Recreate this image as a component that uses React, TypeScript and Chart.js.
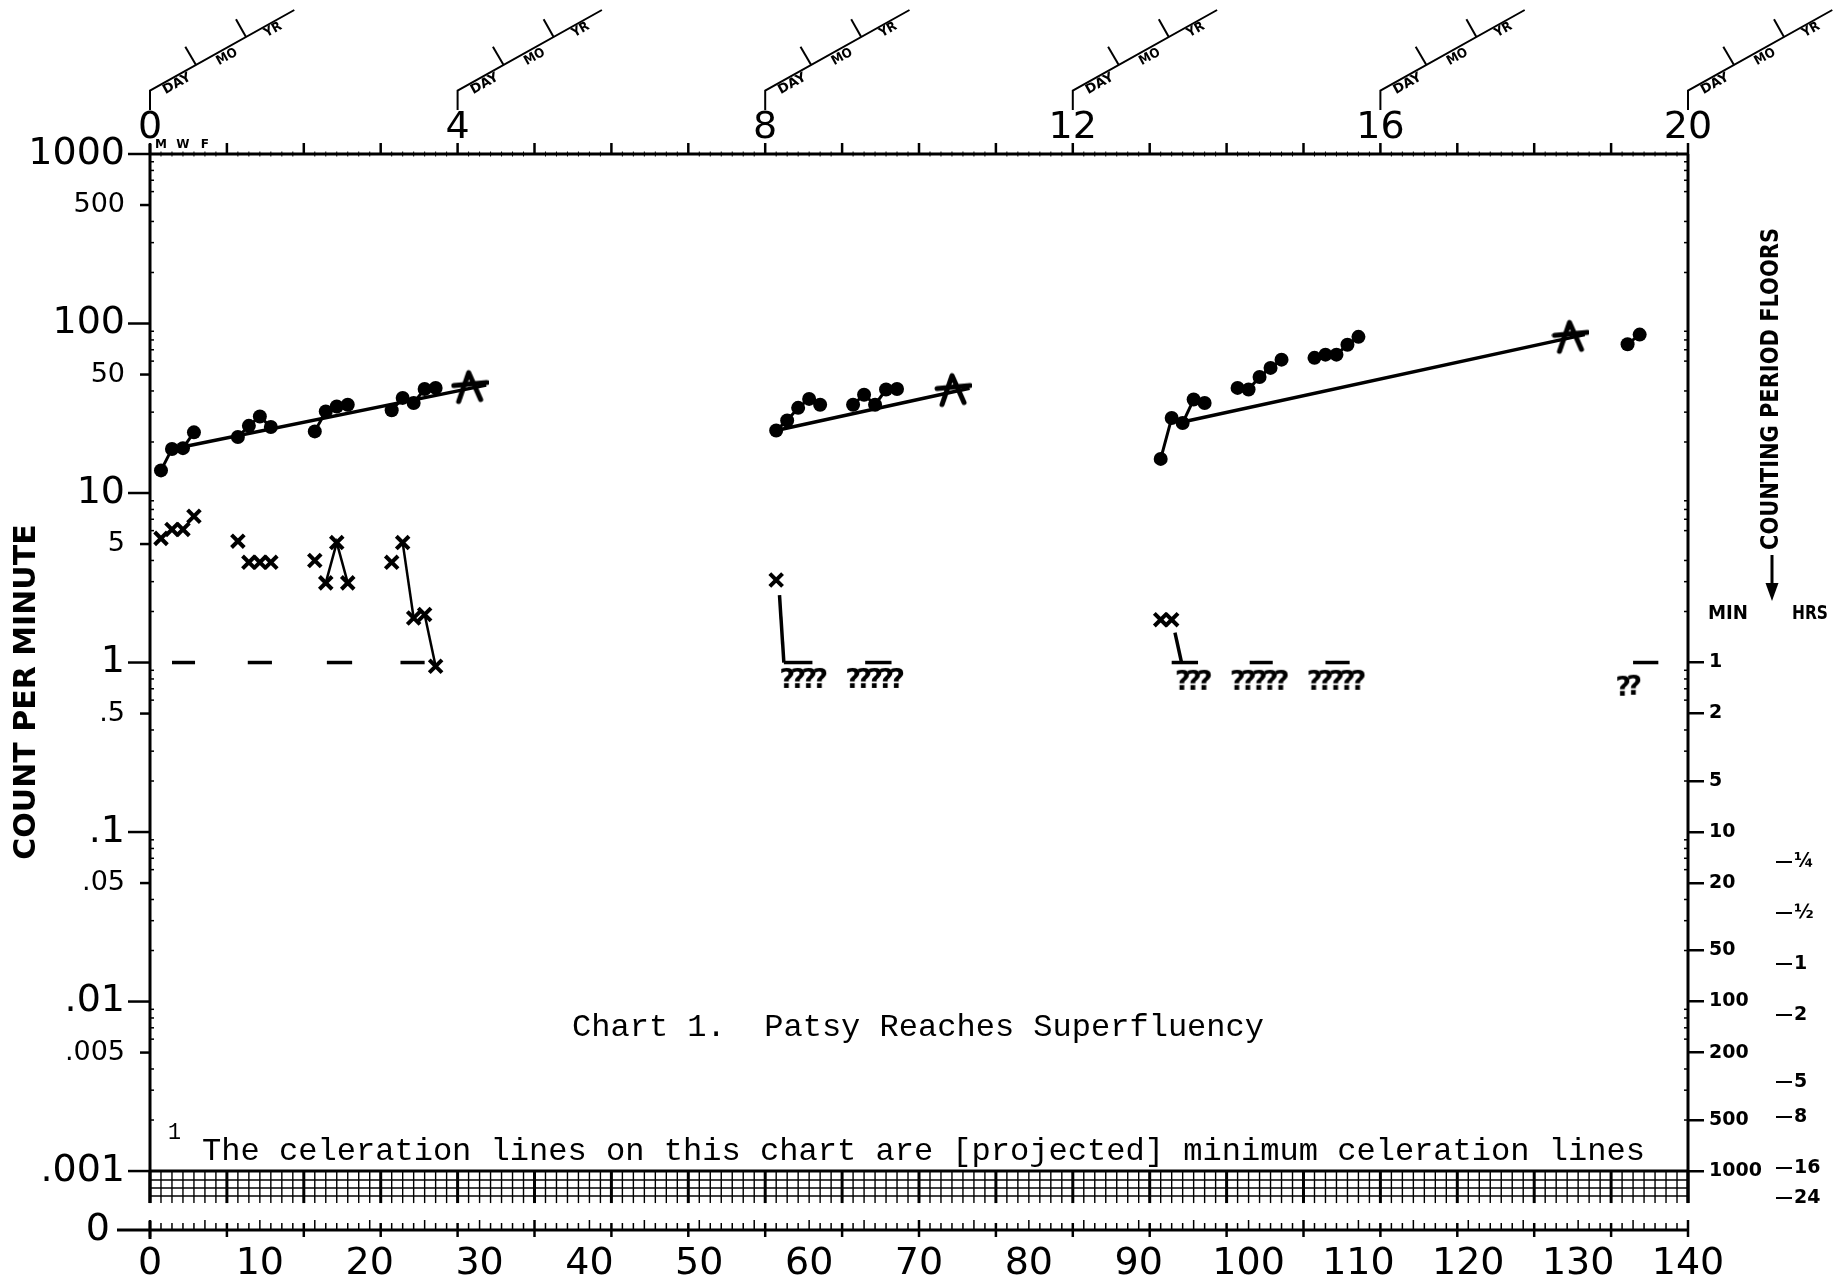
import React, { useEffect, useRef } from 'react';
import { Chart, registerables } from 'chart.js';

Chart.register(...registerables);

const FONT = "'DejaVu Sans', 'Liberation Sans', sans-serif";
const COND = "'DejaVu Sans Condensed', 'Liberation Sans Narrow', 'DejaVu Sans', sans-serif";
const MONO = "'Liberation Mono', 'DejaVu Sans Mono', monospace";

// ---- axes ----
const ZERO_LINE = 0.000449; // value where the "0" line sits below .001
const TOP_COUNT = 1000;
const FIRST_DAY = 0;
const LAST_DAY = 140;
const LAST_WEEK = 20;

const dayTicks = [0, 10, 20, 30, 40, 50, 60, 70, 80, 90, 100, 110, 120, 130, 140];
const dayTickLabels = ['0', '10', '20', '30', '40', '50', '60', '70', '80', '90', '100', '110', '120', '130', '140'];
const weekTicks = [0, 4, 8, 12, 16, 20];
const weekTickLabels = ['0', '4', '8', '12', '16', '20'];
const countTicks = [1000, 500, 100, 50, 10, 5, 1, 0.5, 0.1, 0.05, 0.01, 0.005, 0.001, ZERO_LINE];
const countTickLabels = ['1000', '500', '100', '50', '10', '5', '1', '.5', '.1', '.05', '.01', '.005', '.001', '0'];
const minuteFloorTicks = [1, 0.5, 0.2, 0.1, 0.05, 0.02, 0.01, 0.005, 0.002, 0.001];
const minuteFloorLabels = ['1', '2', '5', '10', '20', '50', '100', '200', '500', '1000'];
const hourFloorTicks = [1 / 15, 1 / 30, 1 / 60, 1 / 120, 1 / 300, 1 / 480, 1 / 960, 1 / 1440];
const hourFloorLabels = ['¼', '½', '1', '2', '5', '8', '16', '24'];
const weekdayLetters = ['M', 'W', 'F'];
const weekdayLetterDays = [1, 3, 5];
const dateBoxLabels = ['DAY', 'MO', 'YR'];

// ---- data ----
const correctDays = [1, 2, 3, 4, 8, 9, 10, 11, 15, 16, 17, 18, 22, 23, 24, 25, 26,
  57, 58, 59, 60, 61, 64, 65, 66, 67, 68,
  92, 93, 94, 95, 96, 99, 100, 101, 102, 103, 106, 107, 108, 109, 110, 134.5, 135.6];
const correctCounts = [13.6, 18.2, 18.4, 22.8, 21.4, 24.9, 28.3, 24.5, 23.1, 30.3, 32.4, 33.2, 30.8, 36.4, 34.0, 41.1, 41.7,
  23.4, 26.8, 31.8, 35.9, 33.2, 33.2, 38.0, 33.2, 40.8, 41.1,
  15.9, 27.7, 25.9, 35.6, 34.0, 41.7, 40.8, 48.4, 54.7, 61.2, 62.7, 65.5, 65.5, 75.0, 83.4, 75.5, 86.0];

const errorDays = [1, 2, 3, 4, 8, 9, 10, 11, 15, 16, 17, 18, 22, 23, 24, 25, 26, 57, 92, 93];
const errorCounts = [5.4, 6.1, 6.1, 7.3, 5.2, 3.9, 3.9, 3.9, 4.0, 2.95, 5.1, 2.95, 3.9, 5.1, 1.83, 1.92, 0.95, 3.07, 1.79, 1.79];

const unknownDays = [58, 59, 60, 61, 64, 65, 66, 67, 68, 94, 95, 96, 99, 100, 101, 102, 103, 106, 107, 108, 109, 110, 134.1, 135.1];
const unknownCounts = [0.79, 0.79, 0.79, 0.79, 0.79, 0.79, 0.79, 0.79, 0.79, 0.77, 0.77, 0.77, 0.77, 0.77, 0.77, 0.77, 0.77,
  0.77, 0.77, 0.77, 0.77, 0.77, 0.71, 0.72];

const floorStartDays = [2, 8.9, 16.1, 22.8, 57.7, 65.1, 93, 100.1, 107, 135];
const floorEndDays = [4.1, 11.1, 18.4, 25, 60.3, 67.5, 95.4, 102.2, 109.2, 137.3];
const FLOOR_COUNT = 1;

const dropStartDays = [57.3, 93.3];
const dropStartCounts = [2.5, 1.5];
const dropEndDays = [57.7, 93.9];

const aimDays = [29.1, 73.1, 129.3];
const aimCounts = [42.5, 40.8, 84];

const celStartDays = [2.6, 57.3, 94.4];
const celStartCounts = [18.5, 23.6, 26.6];
const celEndDays = [30.6, 74.6, 130.6];
const celEndCounts = [43.3, 41.5, 86];

const chartTitle = 'Chart 1.  Patsy Reaches Superfluency';
const footnoteMark = '1';
const footnote = 'The celeration lines on this chart are [projected] minimum celeration lines';
const yTitle = 'COUNT PER MINUTE';
const rightTitle = 'COUNTING PERIOD FLOORS';

function makeAim(): HTMLCanvasElement {
  const c = document.createElement('canvas');
  c.width = 38; c.height = 38;
  const g = c.getContext('2d')!;
  g.strokeStyle = '#000'; g.lineWidth = 5; g.lineCap = 'round'; g.lineJoin = 'round';
  g.beginPath(); g.moveTo(8, 34); g.lineTo(18, 5); g.lineTo(30, 32); g.stroke();
  g.beginPath(); g.moveTo(3, 18); g.lineTo(36, 15); g.stroke();
  return c;
}

function makeQuestion(): HTMLCanvasElement {
  const c = document.createElement('canvas');
  c.width = 18; c.height = 32;
  const g = c.getContext('2d')!;
  g.fillStyle = '#000';
  g.font = "bold 27px 'DejaVu Sans', sans-serif";
  g.textAlign = 'center'; g.textBaseline = 'middle';
  g.fillText('?', 9, 17);
  return c;
}

function fitted(ctx: CanvasRenderingContext2D, text: string, x: number, y: number, font: string, width: number,
  align: CanvasTextAlign = 'left', rot = 0) {
  ctx.save();
  ctx.font = font;
  const w = ctx.measureText(text).width || 1;
  ctx.translate(x, y);
  if (rot) ctx.rotate(rot);
  ctx.scale(width / w, 1);
  ctx.textAlign = align;
  ctx.textBaseline = 'middle';
  ctx.fillText(text, 0, 0);
  ctx.restore();
}

const decorPlugin = {
  id: 'celerationDecor',
  beforeDraw(chart: any) {
    const { ctx, width, height } = chart;
    ctx.save();
    ctx.fillStyle = '#fff';
    ctx.fillRect(0, 0, width, height);
    ctx.restore();
  },
  afterDraw(chart: any) {
    const ctx: CanvasRenderingContext2D = chart.ctx;
    const xs = chart.scales.x, ys = chart.scales.y, xt = chart.scales.xTop;
    const px = (d: number) => xs.getPixelForValue(d);
    const py = (v: number) => ys.getPixelForValue(v);
    const left = px(FIRST_DAY), right = px(LAST_DAY);
    const top = py(TOP_COUNT), milli = py(0.001), zeroY = py(ZERO_LINE);
    const gridBottom = milli + 32;
    const line = (x1: number, y1: number, x2: number, y2: number, w: number) => {
      ctx.lineWidth = w;
      ctx.beginPath(); ctx.moveTo(x1, y1); ctx.lineTo(x2, y2); ctx.stroke();
    };
    ctx.save();
    ctx.strokeStyle = '#000';
    ctx.fillStyle = '#000';

    // vertical axes and top line
    line(left, top - 10, left, gridBottom, 3);
    line(right, top, right, gridBottom, 3);
    line(left, top, right, top, 3);

    // left labelled ticks
    countTicks.forEach((v, i) => {
      if (v === ZERO_LINE) return;
      const small = countTickLabels[i].includes('5');
      line(left - (small ? 10 : 22), py(v), left, py(v), 2.5);
    });
    // minor log ticks inside both vertical axes
    for (let e = -3; e < 3; e++) {
      [2, 3, 4, 6, 7, 8, 9].forEach((m) => {
        const yy = py(m * Math.pow(10, e));
        line(left, yy, left + 4, yy, 1.5);
        line(right - 4, yy, right, yy, 1.5);
      });
    }

    // top: week ticks and day marks
    for (let d = FIRST_DAY; d <= LAST_DAY; d++) {
      const xx = px(d);
      if (d % 7 === 0) line(xx, top, xx, top - 11, 2.5);
      else line(xx, top - 2.5, xx, top + 2.5, 1);
    }

    // bottom grid strip below .001
    line(left, milli, right, milli, 3);
    [9, 17, 25].forEach((o) => line(left, milli + o, right, milli + o, 1.5));
    for (let d = FIRST_DAY; d <= LAST_DAY; d++) {
      const xx = px(d);
      line(xx, milli, xx, gridBottom, d % 7 === 0 ? 3 : 1.4);
    }

    // zero line
    line(px(FIRST_DAY) - 33, zeroY, right, zeroY, 3);
    for (let d = FIRST_DAY; d <= LAST_DAY; d++) {
      const xx = px(d);
      const up = d % 5 === 0 ? 10 : 7;
      const down = d % 7 === 0 ? 7 : 0;
      line(xx, zeroY - up, xx, zeroY + down, d % 7 === 0 ? 2.5 : 1.5);
    }
    line(left, zeroY - 9, left, zeroY + 9, 3);

    // M W F
    ctx.font = `bold 12px ${FONT}`;
    ctx.textAlign = 'center';
    ctx.textBaseline = 'middle';
    weekdayLetters.forEach((t, i) => ctx.fillText(t, px(weekdayLetterDays[i]), top - 9));

    // date boxes above each labelled week
    const ang = Math.atan2(80.7, 144.3);
    weekTicks.forEach((w) => {
      const X = xt.getPixelForValue(w);
      ctx.lineWidth = 2;
      ctx.beginPath();
      ctx.moveTo(X, top - 44); ctx.lineTo(X, top - 63.3); ctx.lineTo(X + 144.3, top - 144);
      ctx.stroke();
      line(X + 46, top - 89, X + 35.3, top - 107.3, 2);
      line(X + 96, top - 117, X + 86, top - 134.7, 2);
      fitted(ctx, dateBoxLabels[0], X + 27, top - 70, `bold 13px ${FONT}`, 30, 'center', -ang);
      fitted(ctx, dateBoxLabels[1], X + 77, top - 97, `bold 13px ${FONT}`, 22, 'center', -ang);
      fitted(ctx, dateBoxLabels[2], X + 123, top - 124, `bold 13px ${FONT}`, 18, 'center', -ang);
    });

    // chart title and footnote
    fitted(ctx, chartTitle, 572, 1028, `32px ${MONO}`, 692, 'left');
    fitted(ctx, footnoteMark, 168, 1133, `24px ${MONO}`, 13, 'left');
    fitted(ctx, footnote, 202, 1152, `32px ${MONO}`, 1443, 'left');

    // right side titles
    fitted(ctx, rightTitle, 1772, 389, `bold 24px ${COND}`, 322, 'center', -Math.PI / 2);
    line(1772, 555, 1772, 586, 3);
    ctx.beginPath();
    ctx.moveTo(1765.5, 583); ctx.lineTo(1778.5, 583); ctx.lineTo(1772, 601); ctx.closePath(); ctx.fill();
    fitted(ctx, 'MIN', 1728, 614, `bold 20px ${COND}`, 40, 'center');
    fitted(ctx, 'HRS', 1810, 614, `bold 20px ${COND}`, 36, 'center');

    ctx.restore();
  },
};

export default function App() {
  const ref = useRef<HTMLCanvasElement | null>(null);

  useEffect(() => {
    if (!ref.current) return;
    document.body.style.margin = '0';
    const aim = makeAim();
    const q = makeQuestion();
    const BLACK = '#000';
    const CLEAR = 'rgba(0,0,0,0)';

    const datasets: any[] = [];

    celStartDays.forEach((d, i) => {
      datasets.push({
        label: `celeration ${i + 1}`,
        data: [{ x: d, y: celStartCounts[i] }, { x: celEndDays[i], y: celEndCounts[i] }],
        borderColor: BLACK, borderWidth: 3.5, pointRadius: 0, tension: 0,
      });
    });
    floorStartDays.forEach((d, i) => {
      datasets.push({
        label: `floor ${i + 1}`,
        data: [{ x: d, y: FLOOR_COUNT }, { x: floorEndDays[i], y: FLOOR_COUNT }],
        borderColor: BLACK, borderWidth: 3.5, pointRadius: 0,
      });
    });
    dropStartDays.forEach((d, i) => {
      datasets.push({
        label: `drop ${i + 1}`,
        data: [{ x: d, y: dropStartCounts[i] }, { x: dropEndDays[i], y: FLOOR_COUNT }],
        borderColor: BLACK, borderWidth: 3.5, pointRadius: 0,
      });
    });
    datasets.push({
      label: 'correct',
      data: correctDays.map((d, i) => ({ x: d, y: correctCounts[i] })),
      borderColor: BLACK, borderWidth: 3, tension: 0,
      pointRadius: 7, pointBackgroundColor: BLACK, pointBorderColor: BLACK, pointBorderWidth: 0,
      segment: { borderColor: (c: any) => (c.p1.parsed.x - c.p0.parsed.x > 1.7 ? CLEAR : BLACK) },
    });
    datasets.push({
      label: 'errors',
      data: errorDays.map((d, i) => ({ x: d, y: errorCounts[i] })),
      borderColor: BLACK, borderWidth: 2.5, tension: 0,
      pointStyle: 'crossRot', pointRadius: 9, pointBorderWidth: 4, pointBorderColor: BLACK,
      segment: {
        borderColor: (c: any) => {
          const dx = c.p1.parsed.x - c.p0.parsed.x;
          const dl = Math.abs(Math.log10(c.p1.parsed.y / c.p0.parsed.y));
          return dx <= 1.5 && dl > 0.2 ? BLACK : CLEAR;
        },
      },
    });
    datasets.push({
      label: 'aims',
      data: aimDays.map((d, i) => ({ x: d, y: aimCounts[i] })),
      showLine: false, pointStyle: aim, pointRadius: 12,
    });
    datasets.push({
      label: 'no count',
      data: unknownDays.map((d, i) => ({ x: d, y: unknownCounts[i] })),
      showLine: false, pointStyle: q, pointRadius: 10,
    });

    const bigFont = { family: FONT, size: 38 };

    const chart = new Chart(ref.current, {
      type: 'line',
      data: { datasets },
      plugins: [decorPlugin],
      options: {
        animation: false,
        responsive: false,
        devicePixelRatio: 1,
        layout: { padding: 0 },
        plugins: { legend: { display: false }, tooltip: { enabled: false }, title: { display: false } },
        elements: { line: { tension: 0 } },
        scales: {
          x: {
            type: 'linear', position: 'bottom', min: FIRST_DAY, max: LAST_DAY,
            afterBuildTicks: (s: any) => { s.ticks = dayTicks.map((v) => ({ value: v })); },
            afterFit: (s: any) => { s.height = 55; },
            grid: { display: false, drawTicks: false }, border: { display: false },
            ticks: {
              autoSkip: false, maxRotation: 0, minRotation: 0, padding: 11, color: '#000', font: bigFont,
              callback: (_v: any, i: number) => dayTickLabels[i],
            },
          },
          xTop: {
            type: 'linear', position: 'top', min: 0, max: LAST_WEEK,
            afterBuildTicks: (s: any) => { s.ticks = weekTicks.map((v) => ({ value: v })); },
            afterFit: (s: any) => { s.height = 154; },
            grid: { display: false, drawTicks: false }, border: { display: false },
            ticks: {
              autoSkip: false, maxRotation: 0, minRotation: 0, padding: 3, color: '#000', font: bigFont,
              callback: (_v: any, i: number) => weekTickLabels[i],
            },
          },
          y: {
            type: 'logarithmic', position: 'left', min: ZERO_LINE, max: TOP_COUNT,
            afterBuildTicks: (s: any) => { s.ticks = countTicks.map((v) => ({ value: v })); },
            afterFit: (s: any) => { s.width = 150; },
            grid: { display: false, drawTicks: false }, border: { display: false },
            title: {
              display: true, text: yTitle, color: '#000',
              font: { family: FONT, size: 30, weight: 'bold' }, padding: { top: 9, bottom: 0 },
            },
            ticks: {
              autoSkip: false, padding: 25, color: '#000',
              font: (c: any) => ({ family: FONT, size: countTickLabels[c.index] && countTickLabels[c.index].includes('5') ? 27 : 38 }),
              callback: (_v: any, i: number) => (countTicks[i] === ZERO_LINE ? countTickLabels[i] + '\u2009\u2009' : countTickLabels[i]),
            },
          },
          yMin: {
            type: 'logarithmic', position: 'right', weight: 0, min: ZERO_LINE, max: TOP_COUNT,
            afterBuildTicks: (s: any) => { s.ticks = minuteFloorTicks.map((v) => ({ value: v })); },
            afterFit: (s: any) => { s.width = 88; },
            grid: { display: true, drawOnChartArea: false, drawTicks: true, tickLength: 16, color: '#000', lineWidth: 2.5 },
            border: { display: false },
            ticks: {
              autoSkip: false, padding: 5, color: '#000', font: { family: FONT, size: 19, weight: 'bold' },
              callback: (_v: any, i: number) => minuteFloorLabels[i],
            },
          },
          yHrs: {
            type: 'logarithmic', position: 'right', weight: 1, min: ZERO_LINE, max: TOP_COUNT,
            afterBuildTicks: (s: any) => { s.ticks = hourFloorTicks.map((v) => ({ value: v })); },
            afterFit: (s: any) => { s.width = 57; },
            grid: { display: true, drawOnChartArea: false, drawTicks: true, tickLength: 16, color: '#000', lineWidth: 2 },
            border: { display: false },
            ticks: {
              autoSkip: false, padding: 2, color: '#000', font: { family: FONT, size: 19, weight: 'bold' },
              callback: (_v: any, i: number) => hourFloorLabels[i],
            },
          },
        },
      } as any,
    });
    return () => chart.destroy();
  }, []);

  return (
    <div style={{ position: 'fixed', left: 0, top: 0, width: 1833, height: 1285, background: '#fff' }}>
      <canvas ref={ref} width={1833} height={1285} style={{ display: 'block', width: 1833, height: 1285 }} />
    </div>
  );
}
